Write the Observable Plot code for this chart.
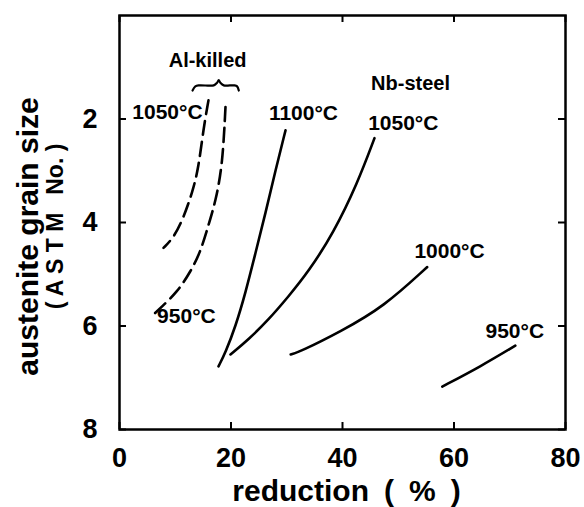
<!DOCTYPE html>
<html><head><meta charset="utf-8">
<script src="https://cdn.jsdelivr.net/npm/d3@7"></script>
<script src="https://cdn.jsdelivr.net/npm/@observablehq/plot@0.6"></script>
<style>
html,body{margin:0;padding:0;background:#fff;}
</style></head><body><div id="chart"></div>
<script>
// ---- data ----
const xTicks = [0, 20, 40, 60, 80];
const yTicks = [2, 4, 6, 8];

// Al-killed (dashed)
const al1050X = [15.96, 15.07, 14.17, 13.09, 11.48, 9.69, 7.89];
const al1050Y = [1.64, 2.18, 2.95, 3.41, 3.91, 4.30, 4.49];
const al950X = [19.01, 18.48, 17.22, 15.96, 14.53, 12.74, 10.40, 7.35, 6.10];
const al950Y = [1.77, 2.89, 3.60, 4.05, 4.57, 4.95, 5.34, 5.65, 5.78];

// Nb-steel (solid)
const nb1100X = [29.78, 27.98, 26.19, 24.39, 22.60, 20.81, 19.01, 17.76];
const nb1100Y = [2.22, 2.99, 3.82, 4.59, 5.36, 6.01, 6.51, 6.78];
const nb1050X = [45.74, 42.69, 38.39, 33.90, 30.31, 26.73, 23.14, 19.91];
const nb1050Y = [2.37, 3.24, 4.20, 4.95, 5.43, 5.88, 6.26, 6.55];
const nb1000X = [55.2, 47.4, 39.6, 32.5, 30.7];
const nb1000Y = [4.86, 5.63, 6.11, 6.49, 6.55];
const nb950X = [71.0, 64.8, 57.9];
const nb950Y = [6.38, 6.78, 7.17];

// brace over the Al-killed curves
const braceX = [13.1, 13.6, 14.3, 16.9, 17.5, 17.8, 18.1, 18.7, 20.6, 21.1, 21.4];
const braceY = [1.45, 1.37, 1.35, 1.35, 1.30, 1.25, 1.30, 1.35, 1.35, 1.37, 1.45];

// annotations
const groupText = ["Al-killed", "Nb-steel"];
const groupX = [15.8, 52.2];
const groupY = [0.87, 1.31];
const tempText = ["1050°C", "950°C", "1100°C", "1050°C", "1000°C", "950°C"];
const tempX = [8.6, 12.0, 33.0, 50.9, 59.2, 70.9];
const tempY = [1.87, 5.82, 1.89, 2.08, 4.55, 6.11];

const xLabel = "reduction\u2002(\u2002%\u2002)";
const yLabel1 = "austenite grain size";
const yLabel2 = "( A S T M\u2002 No. )";

// ---- build tables ----
const pts = (xs, ys, s) => xs.map((x, i) => ({x, y: ys[i], s}));
const dashed = [...pts(al1050X, al1050Y, "Al 1050"), ...pts(al950X, al950Y, "Al 950")];
const solid = [
  ...pts(nb1100X, nb1100Y, "Nb 1100"),
  ...pts(nb1050X, nb1050Y, "Nb 1050"),
  ...pts(nb1000X, nb1000Y, "Nb 1000"),
  ...pts(nb950X, nb950Y, "Nb 950")
];
const brace = pts(braceX, braceY, "brace");
const groups = groupText.map((t, i) => ({t, x: groupX[i], y: groupY[i]}));
const temps = tempText.map((t, i) => ({t, x: tempX[i], y: tempY[i]}));

const W = 584, H = 507, mL = 119, mR = 19, mT = 15, mB = 78;
const fw = W - mL - mR, fh = H - mT - mB, tk = 7;
const font = "'Liberation Sans', Arial, sans-serif";

const chart = Plot.plot({
  width: W, height: H,
  marginLeft: mL, marginRight: mR, marginTop: mT, marginBottom: mB,
  style: {fontFamily: font, fontWeight: "bold", color: "#000", background: "#fff"},
  x: {domain: [0, 80]},
  y: {domain: [0, 8], reverse: true},
  marks: [
    Plot.frame({stroke: "#000", strokeWidth: 2.5}),
    Plot.tickX(xTicks, {x: d => d, insetTop: fh - tk, stroke: "#000", strokeWidth: 2}),
    Plot.tickX(xTicks, {x: d => d, insetBottom: fh - tk, stroke: "#000", strokeWidth: 2}),
    Plot.tickY(yTicks, {y: d => d, insetRight: fw - tk, stroke: "#000", strokeWidth: 2}),
    Plot.tickY(yTicks, {y: d => d, insetLeft: fw - tk, stroke: "#000", strokeWidth: 2}),
    Plot.axisX(xTicks, {anchor: "bottom", tickSize: 0, tickPadding: 18, fontSize: 27, fontWeight: "bold", tickFormat: d => String(d), label: null}),
    Plot.axisY(yTicks, {anchor: "left", tickSize: 0, tickPadding: 22, fontSize: 27, fontWeight: "bold", tickFormat: d => String(d), label: null}),
    Plot.line(dashed, {x: "x", y: "y", z: "s", curve: "basis", stroke: "#000", strokeWidth: 2.6, strokeDasharray: "14,7"}),
    Plot.line(solid, {x: "x", y: "y", z: "s", curve: "basis", stroke: "#000", strokeWidth: 2.6}),
    Plot.line(brace, {x: "x", y: "y", curve: "catmull-rom", stroke: "#000", strokeWidth: 2.2}),
    Plot.text(groups, {x: "x", y: "y", text: "t", fontSize: 20, fontWeight: "bold", letterSpacing: 1.5, lineAnchor: "middle"}),
    Plot.text(temps, {x: "x", y: "y", text: "t", fontSize: 21, fontWeight: "bold", letterSpacing: -1, lineAnchor: "middle"}),
    Plot.text([xLabel], {text: d => d, frameAnchor: "bottom", textAnchor: "middle", dx: 4, dy: 62, fontSize: 30, fontWeight: "bold", letterSpacing: 0.4, lineAnchor: "middle"}),
    Plot.text([yLabel1], {text: d => d, frameAnchor: "left", textAnchor: "middle", rotate: -90, dx: -91, dy: 14, fontSize: 30, fontWeight: "bold", letterSpacing: 0.3, lineAnchor: "middle"}),
    Plot.text([yLabel2], {text: d => d, frameAnchor: "left", textAnchor: "middle", rotate: -90, dx: -64, dy: 4, fontSize: 23, fontWeight: "bold", lineAnchor: "middle"})
  ]
});
document.getElementById("chart").appendChild(chart);
</script>
</body></html>
